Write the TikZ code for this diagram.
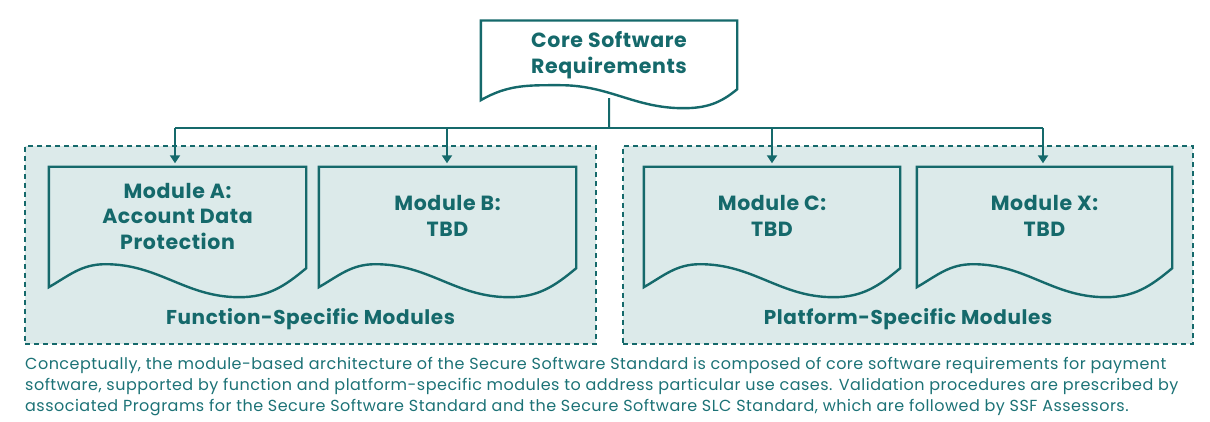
\documentclass[tikz,border=0pt]{standalone}
\usepackage{fontspec}
\setmainfont{Poppins}
\newfontfamily\capfont{Poppins}[LetterSpace=3]
\newfontfamily\headfont{Poppins}[LetterSpace=3]
\usetikzlibrary{calc,arrows.meta}
\definecolor{teal1}{HTML}{15696B}
\definecolor{capcol}{HTML}{1C7276}
\definecolor{grpfill}{HTML}{DCEAEA}
\tikzset{
  grp/.style={draw=teal1, line width=1.5pt, dash pattern=on 5pt off 4pt, fill=grpfill, inner sep=0pt},
  docarea/.style={draw=none, inner sep=0pt},
  doctext/.style={text=teal1, font=\headfont\fontsize{20.5}{25.5}\selectfont\bfseries, align=center},
  grplabel/.style={text=teal1, font=\headfont\fontsize{20}{23}\selectfont\bfseries},
  docline/.style={draw=teal1, line width=2.4pt, line join=miter},
  conn/.style={draw=teal1, line width=2pt},
  arr/.style={conn, -{Triangle[width=10pt,length=8pt]}, shorten >=3.5pt},
}
% #1 node, #2 peak frac, #3 peak up, #4 trough frac, #5 trough down, #6 right up
\newcommand\mydoc[7][]{%
  \draw[docline,#1] (#2.south west) -- (#2.north west) -- (#2.north east)
    -- ([yshift=#7pt]#2.south east)
    to[out=220,in=0] ($(#2.south west)!#5!(#2.south east)+(0,#6)$)
    to[out=180,in=0] ($(#2.south west)!#3!(#2.south east)+(0,-#4)$)
    to[out=180,in=30] (#2.south west) -- cycle;}
\begin{document}
\begin{tikzpicture}[x=1pt,y=-1pt]
\useasboundingbox (0,0) rectangle (1210,422);
% groups
\node[grp, minimum width=571pt, minimum height=198pt] (G1) at (310.5,245) {};
\node[grp, minimum width=570pt, minimum height=198pt] (G2) at (908,245) {};
\node[grplabel] (G1l) at (310.5,319.5) {Function-Specific Modules};
\node[grplabel] (G2l) at (908,319.5) {Platform-Specific Modules};
% core
\node[docarea, minimum width=256pt, minimum height=79.3pt] (core) at (609,60.35) {};
\mydoc[fill=white]{core}{0.31}{15}{0.79}{8}{11}
\node[doctext] (coret) at ([yshift=5pt]core.center) {Core Software\\Requirements};
% modules
\node[docarea, minimum width=257pt, minimum height=120pt] (A) at (177.5,227) {};
\node[docarea, minimum width=257pt, minimum height=120pt] (B) at (447.5,227) {};
\node[docarea, minimum width=256pt, minimum height=120pt] (C) at (772,227) {};
\node[docarea, minimum width=255pt, minimum height=120pt] (X) at (1044.5,227) {};
\mydoc{A}{0.22}{23}{0.74}{10}{19}
\mydoc{B}{0.22}{23}{0.74}{10}{19}
\mydoc{C}{0.22}{23}{0.74}{10}{19}
\mydoc{X}{0.22}{23}{0.74}{10}{19}
\node[doctext] (At) at ([yshift=11pt]A.center) {Module A:\\Account Data\\Protection};
\node[doctext] (Bt) at ([yshift=11pt]B.center) {Module B:\\TBD};
\node[doctext] (Ct) at ([yshift=11pt]C.center) {Module C:\\TBD};
\node[doctext] (Xt) at ([yshift=11pt]X.center) {Module X:\\TBD};
% connectors
\coordinate (bus) at (609,128);
\coordinate (bA) at (175,128);
\coordinate (bB) at (447,128);
\coordinate (bC) at (772,128);
\coordinate (bX) at (1043,128);
\draw[conn] ($(core.south west)!0.5!(core.south east)+(0,-2)$) -- (bus);
\draw[conn] (bA) -- (bX);
\draw[arr] (bA) -- (bA |- A.north);
\draw[arr] (bB) -- (bB |- B.north);
\draw[arr] (bC) -- (bC |- C.north);
\draw[arr] (bX) -- (bX |- X.north);
% caption
\node[anchor=north west, inner sep=0pt, text=capcol, align=left,
  font=\capfont\fontsize{16}{21}\selectfont] (cap) at (25,357.5)
  {Conceptually, the module-based architecture of the Secure Software Standard is composed of core software requirements for payment\\
   software, supported by function and platform-specific modules to address particular use cases. Validation procedures are prescribed by\\
   associated Programs for the Secure Software Standard and the Secure Software SLC Standard, which are followed by SSF Assessors.};
\end{tikzpicture}
\end{document}
